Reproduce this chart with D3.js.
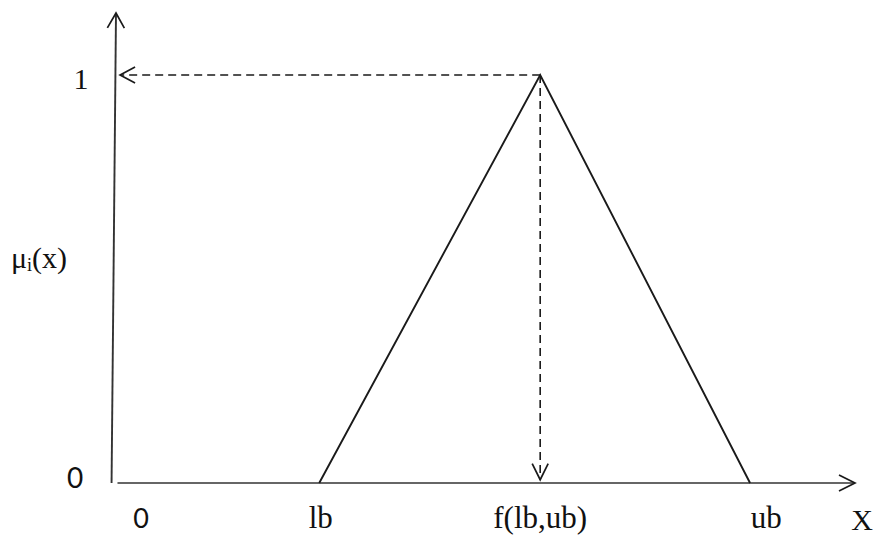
<!DOCTYPE html>
<html>
<head>
<meta charset="utf-8">
<script src="https://cdn.jsdelivr.net/npm/d3@7"></script>
<style>
    body { margin: 0; background: #fff; }
    .serif { font-family: "Liberation Serif", "DejaVu Serif", serif; fill: #111; }
    .sans { font-family: Lato, "Liberation Sans", sans-serif; fill: #111; }
</style>
</head>
<body>
<svg id="chart"></svg>
<script>
// membership function: triangle (lb, f(lb,ub), ub)
const triangle = [
    { x: 27.5, mu: 0 },
    { x: 57.4, mu: 1 },
    { x: 85.8, mu: 0 }
];
const peak = triangle[1];

const xTickLabels = ['0', 'lb', 'f(lb,ub)', 'ub'];
const xTickValues = [3.4, 27.7, 57.4, 88.0];
const yTickLabels = ['0', '1'];
const yTickValues = [0, 1];

const width = 882, height = 535;

const svg = d3.select('#chart')
    .attr('width', width)
    .attr('height', height);

// scales
const xScale = d3.scaleLinear().domain([0, 100]).range([116, 855]);
const yScale = d3.scaleLinear().domain([0, 1]).range([483, 75]);

const ink = '#1a1a1a';
const line = d3.line().x(d => xScale(d.x)).y(d => yScale(d.mu));

// open chevron arrow head, tip at (x, y), pointing along angle (radians)
function arrowHead(g, x, y, angle, len, half) {
    const c = Math.cos(angle), s = Math.sin(angle);
    const bx = x - c * len, by = y - s * len;
    const p1 = [bx - s * half, by + c * half];
    const p2 = [bx + s * half, by - c * half];
    g.append('path')
        .attr('d', `M${p1[0]},${p1[1]}L${x},${y}L${p2[0]},${p2[1]}`)
        .attr('fill', 'none')
        .attr('stroke', ink)
        .attr('stroke-width', 1.7);
}

const axes = svg.append('g');

// y axis (slightly leaning, as in the drawing)
const yAxisBottom = [xScale(-0.6), yScale(0)];
const yAxisTop = [xScale(0), yScale(1.152)];
axes.append('line')
    .attr('x1', yAxisBottom[0]).attr('y1', yAxisBottom[1])
    .attr('x2', yAxisTop[0]).attr('y2', yAxisTop[1])
    .attr('stroke', '#333').attr('stroke-width', 1.9);
arrowHead(axes, yAxisTop[0], yAxisTop[1],
    Math.atan2(yAxisTop[1] - yAxisBottom[1], yAxisTop[0] - yAxisBottom[0]), 15, 8.5);

// x axis
axes.append('line')
    .attr('x1', xScale(0.2)).attr('y1', yScale(0))
    .attr('x2', xScale(100)).attr('y2', yScale(0))
    .attr('stroke', '#333').attr('stroke-width', 1.7);
arrowHead(axes, xScale(100), yScale(0), 0, 16, 8);

// triangle
svg.append('path')
    .datum(triangle)
    .attr('d', line)
    .attr('fill', 'none')
    .attr('stroke', ink)
    .attr('stroke-width', 1.9);

// dashed guides from the peak
const guides = svg.append('g');
guides.append('line')
    .attr('x1', xScale(peak.x)).attr('y1', yScale(peak.mu))
    .attr('x2', xScale(0.55)).attr('y2', yScale(peak.mu))
    .attr('stroke', ink).attr('stroke-width', 1.6)
    .attr('stroke-dasharray', '8,5');
arrowHead(guides, xScale(0.55), yScale(peak.mu), Math.PI, 15, 8);

guides.append('line')
    .attr('x1', xScale(peak.x)).attr('y1', yScale(peak.mu))
    .attr('x2', xScale(peak.x)).attr('y2', yScale(0.008))
    .attr('stroke', ink).attr('stroke-width', 1.6)
    .attr('stroke-dasharray', '8,5');
arrowHead(guides, xScale(peak.x), yScale(0.008), Math.PI / 2, 16, 8);

// x tick labels
svg.selectAll('.xlab')
    .data(xTickLabels)
    .join('text')
    .attr('class', (d, i) => 'xlab ' + (i === 0 ? 'sans' : 'serif'))
    .attr('x', (d, i) => xScale(xTickValues[i]))
    .attr('y', 528)
    .attr('text-anchor', 'middle')
    .attr('font-size', (d, i) => i === 0 ? 27 : 31)
    .text(d => d);

svg.append('text')
    .attr('class', 'serif')
    .attr('x', 862).attr('y', 530)
    .attr('text-anchor', 'middle')
    .attr('font-size', 30)
    .text('X');

// y tick labels
svg.selectAll('.ylab')
    .data(yTickLabels)
    .join('text')
    .attr('class', (d, i) => 'ylab ' + (i === 0 ? 'sans' : 'serif'))
    .attr('x', (d, i) => i === 0 ? 75 : 81)
    .attr('y', (d, i) => yScale(yTickValues[i]) + (i === 0 ? 5 : 14))
    .attr('text-anchor', 'middle')
    .attr('font-size', (d, i) => i === 0 ? 28 : 30)
    .text(d => d);

// y axis title
const yTitle = svg.append('text')
    .attr('class', 'serif')
    .attr('x', 11).attr('y', 268)
    .attr('font-size', 30);
yTitle.append('tspan').text('\u03bc');
yTitle.append('tspan').attr('font-size', 18).attr('dy', 3).text('i');
yTitle.append('tspan').attr('dy', -3).text('(x)');
</script>
</body>
</html>
